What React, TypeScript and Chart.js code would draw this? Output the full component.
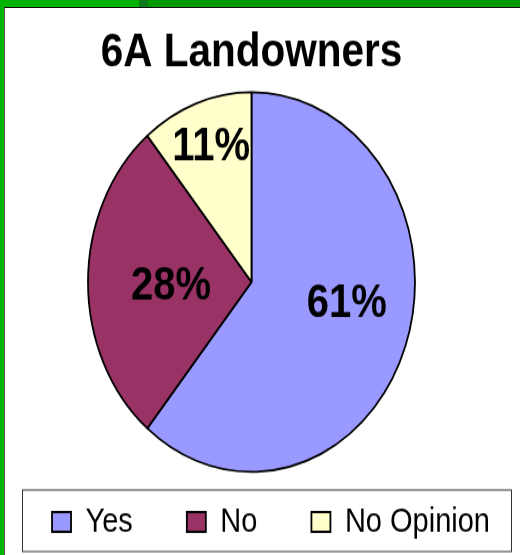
import React, { useEffect, useRef } from "react";
import { Chart, registerables } from "chart.js";

Chart.register(...registerables);

const titleText = "6A Landowners";
const categories = ["Yes", "No", "No Opinion"];
const percentValues = [61, 28, 11];
const sliceColors = ["#9999ff", "#993366", "#ffffcc"];

const FONT = "'Liberation Sans', Arial, Helvetica, sans-serif";

// canvas is wider than the view and shifted left by this many px
const SHIFT = 41;

// label placement (radius factor, angle shift in degrees) per slice
const labelPlacement = [
  { r: 0.594, shift: -8.5 },
  { r: 0.493, shift: -3 },
  { r: 0.749, shift: 0.6 },
];

const pieLabels = {
  id: "pieLabels",
  afterDatasetsDraw(chart: any) {
    const ctx = chart.ctx;
    const meta = chart.getDatasetMeta(0);
    const data = chart.data.datasets[0].data as number[];
    ctx.save();
    ctx.font = `bold 40px ${FONT}`;
    ctx.fillStyle = "#000";
    ctx.textAlign = "center";
    ctx.textBaseline = "middle";
    meta.data.forEach((arc: any, i: number) => {
      const p = arc.getProps(["x", "y", "startAngle", "endAngle", "outerRadius"], true);
      const pl = labelPlacement[i];
      const mid = (p.startAngle + p.endAngle) / 2 + (pl.shift * Math.PI) / 180;
      const r = p.outerRadius * pl.r;
      ctx.fillText(`${data[i]}%`, p.x + Math.cos(mid) * r, p.y + Math.sin(mid) * r);
    });
    ctx.restore();
  },
};

const legendFrame = {
  id: "legendFrame",
  afterDraw(chart: any) {
    const ctx = chart.ctx;
    ctx.save();
    ctx.strokeStyle = "#333";
    ctx.lineWidth = 1;
    ctx.strokeRect(22.5 + SHIFT, 422, 489, 53);
    ctx.restore();
  },
};

export default function App() {
  const ref = useRef<HTMLCanvasElement | null>(null);

  useEffect(() => {
    document.body.style.margin = "0";
    if (!ref.current) return;
    const chart = new Chart(ref.current, {
      type: "pie",
      data: {
        labels: categories,
        datasets: [
          {
            data: percentValues,
            backgroundColor: sliceColors,
            borderColor: "#000",
            borderWidth: 1.8,
            radius: 163.5,
            clip: false,
          } as any,
        ],
      },
      options: {
        animation: false,
        responsive: false,
        devicePixelRatio: 1,
        events: [],
        layout: { padding: { left: 0, right: 0, top: 0, bottom: 4 } },
        plugins: {
          tooltip: { enabled: false },
          title: {
            display: true,
            text: titleText,
            color: "#000",
            font: { family: FONT, size: 40.5, weight: "bold", lineHeight: 1.2 },
            padding: { top: 21.8, bottom: 34.4 },
          },
          legend: {
            display: true,
            position: "bottom",
            align: "end",
            labels: {
              color: "#000",
              boxWidth: 19,
              boxHeight: 17,
              padding: 54,
              font: { family: FONT, size: 29 },
            },
          },
        },
      },
      plugins: [pieLabels, legendFrame],
    });
    return () => chart.destroy();
  }, []);

  return (
    <div
      style={{
        position: "fixed",
        left: 0,
        top: 0,
        width: 520,
        height: 555,
        background: "#00b400",
        overflow: "hidden",
      }}
    >
      <div style={{ position: "absolute", left: 139, top: 0, width: 9, height: 7, background: "#0b7a18" }} />
      <div style={{ position: "absolute", left: 148, top: 0, right: 0, height: 7, background: "#009a00" }} />
      <div
        style={{
          position: "absolute",
          left: 4,
          top: 7,
          right: 0,
          bottom: 0,
          background: "#fff",
          borderTop: "1px solid #111",
          borderLeft: "1px solid #555",
        }}
      />
      <canvas
        ref={ref}
        width={585}
        height={478}
        style={{ position: "absolute", left: -SHIFT, top: 0, width: "585px", height: "555px" }}
      />
    </div>
  );
}
